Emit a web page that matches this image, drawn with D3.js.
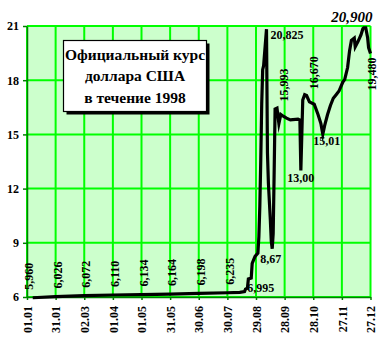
<!DOCTYPE html>
<html><head><meta charset="utf-8">
<script src="https://cdn.jsdelivr.net/npm/d3@7"></script>
<style>
body{margin:0;background:#fff}
svg{display:block}
text{font-family:"Liberation Serif","Times New Roman",serif;font-weight:bold}
</style>
</head><body>
<svg id="c" width="384" height="339"></svg>
<script>
// ---- data ----
const dates = ["1998-01-07","1998-01-31","1998-03-02","1998-04-01","1998-05-01","1998-05-31","1998-06-30","1998-07-30",
  "1998-08-12","1998-08-17","1998-08-18","1998-08-20","1998-08-21","1998-08-24","1998-08-25","1998-08-28","1998-08-31",
  "1998-09-01","1998-09-02","1998-09-03","1998-09-04","1998-09-05","1998-09-06","1998-09-09","1998-09-10","1998-09-11",
  "1998-09-13","1998-09-14","1998-09-15","1998-09-16","1998-09-17","1998-09-18","1998-09-20","1998-09-22","1998-09-24",
  "1998-09-27","1998-09-30","1998-10-04","1998-10-12","1998-10-14","1998-10-15","1998-10-17","1998-10-19","1998-10-21",
  "1998-10-24","1998-10-29","1998-11-02","1998-11-05","1998-11-07","1998-11-09","1998-11-12","1998-11-15","1998-11-18",
  "1998-11-21","1998-11-24","1998-11-28","1998-11-30","1998-12-03","1998-12-05","1998-12-07","1998-12-10","1998-12-11",
  "1998-12-14","1998-12-17","1998-12-19","1998-12-20","1998-12-22","1998-12-24","1998-12-25","1998-12-27"];
const rates = [5.960,6.026,6.072,6.110,6.134,6.164,6.198,6.235,
  6.260,6.300,6.430,6.490,6.995,7.050,7.860,8.250,8.430,
  9.330,11.00,13.60,16.70,18.58,18.80,20.825,14.00,12.30,
  10.30,9.10,8.670,9.50,12.80,16.40,16.45,15.60,16.10,
  15.993,15.90,15.80,15.85,15.80,13.00,16.90,17.20,17.15,
  16.80,16.670,16.10,15.60,15.01,15.50,16.10,16.60,17.00,
  17.20,17.40,17.90,18.05,18.70,19.60,20.20,20.33,19.85,
  20.15,20.50,20.85,20.900,20.90,20.35,19.80,19.480];
const tickDates = ["1998-01-01","1998-01-31","1998-03-02","1998-04-01","1998-05-01","1998-05-31","1998-06-30",
  "1998-07-30","1998-08-29","1998-09-28","1998-10-28","1998-11-27","1998-12-27"];
const tickLabels = ["01.01","31.01","02.03","01.04","01.05","31.05","30.06","30.07","29.08","28.09","28.10","27.11","27.12"];
const yTicks = [6,9,12,15,18,21];
// rotated value labels at the first eight ticks
const earlyLabelDates = ["1998-01-01","1998-01-31","1998-03-02","1998-04-01","1998-05-01","1998-05-31","1998-06-30","1998-07-30"];
const earlyLabelValues = [5.960,6.026,6.072,6.110,6.134,6.164,6.198,6.235];
const earlyLabelTexts = ["5,960","6,026","6,072","6,110","6,134","6,164","6,198","6,235"];
const titleLines = ["Официальный курс","доллара США","в течение 1998"];

// ---- setup ----
const parse = d3.timeParse("%Y-%m-%d");
const data = dates.map((d,i)=>({date:parse(d), v:rates[i]}));
const svg = d3.select("#c");
const L=27, R=370.5, T=26, B=297;

const x = d3.scaleTime().domain([parse("1998-01-01"), parse("1998-12-27")]).range([L,R]);
const y = d3.scaleLinear().domain([6,21]).range([B,T]);

// plot background
svg.append("rect").attr("x",L).attr("y",T).attr("width",R-L).attr("height",B-T).attr("fill","#ccffcc");

// grid
const g = svg.append("g").attr("stroke","#00ff00").attr("stroke-width",2);
tickDates.forEach(d=>{ g.append("line").attr("x1",x(parse(d))).attr("x2",x(parse(d))).attr("y1",T).attr("y2",B); });
yTicks.forEach(v=>{ g.append("line").attr("x1",L).attr("x2",R).attr("y1",y(v)).attr("y2",y(v)); });

// axes
const ax = svg.append("g").attr("transform",`translate(0,${B})`)
  .call(d3.axisBottom(x).tickValues(tickDates.map(parse)).tickFormat((d,i)=>tickLabels[i]).tickSize(3).tickSizeOuter(0));
ax.selectAll("text").attr("transform","rotate(-90)").attr("x",-9).attr("y",0).attr("dy","0.35em")
  .attr("text-anchor","end").style("font-size","12px").attr("fill","#000");
const ay = svg.append("g").attr("transform",`translate(${L},0)`)
  .call(d3.axisLeft(y).tickValues(yTicks).tickFormat(d3.format("d")).tickSize(4).tickPadding(4).tickSizeOuter(0));
ay.selectAll("text").style("font-size","12px").attr("fill","#000");
[ax,ay].forEach(a=>{ a.select(".domain").attr("stroke","#008000").attr("stroke-width",1.5);
  a.selectAll(".tick line").attr("stroke","#008000").attr("stroke-width",1.5); a.attr("font-family",null); });

// line
const line = d3.line().x(d=>x(d.date)).y(d=>y(d.v));
svg.append("path").datum(data).attr("d",line).attr("fill","none").attr("stroke","#000")
  .attr("stroke-width",3.2).attr("stroke-linejoin","miter").attr("stroke-miterlimit",8);

// labels
const lab = svg.append("g").style("font-size","12px").attr("fill","#000");
earlyLabelDates.forEach((d,i)=>{
  const px=x(parse(d))+2, py=y(earlyLabelValues[i])-8;
  lab.append("text").attr("transform",`translate(${px},${py}) rotate(-90)`).attr("dy","0.35em").text(earlyLabelTexts[i]);
});
function pt(ds){ return data.find(d=>+d.date===+parse(ds)); }
function hlabel(ds, txt, dx, dy, anchor){ const p=pt(ds);
  lab.append("text").attr("x",x(p.date)+dx).attr("y",y(p.v)+dy).attr("text-anchor",anchor||"start").text(txt); }
function vlabel(ds, txt, dx, dy, anchor){ const p=pt(ds);
  lab.append("text").attr("transform",`translate(${x(p.date)+dx},${y(p.v)+dy}) rotate(-90)`).attr("dy","0.35em")
    .attr("text-anchor",anchor||"start").text(txt); }
hlabel("1998-08-21","6,995",-1,13);
hlabel("1998-09-15","8,67",-12,14);
hlabel("1998-09-09","20,825",4,10);
hlabel("1998-10-15","13,00",0,11,"middle");
hlabel("1998-11-07","15,01",4,10.5,"middle");
vlabel("1998-09-27","15,993",0,-15);
vlabel("1998-10-29","16,670",0,-15);
vlabel("1998-12-27","19,480",1,4,"end");
const pk = pt("1998-12-19");
svg.append("text").attr("x",x(parse("1998-12-27"))+2).attr("y",y(pk.v)-6.5).attr("text-anchor","end")
  .style("font-size","15px").style("font-style","italic").text("20,900");

// title box
const bx=63.5, by=40.5, bw=143, bh=71;
svg.append("rect").attr("x",bx+3).attr("y",by+3).attr("width",bw).attr("height",bh).attr("fill","#000");
svg.append("rect").attr("x",bx).attr("y",by).attr("width",bw).attr("height",bh).attr("fill","#fff").attr("stroke","#000").attr("stroke-width",1.2);
titleLines.forEach((t,i)=>{
  svg.append("text").attr("x",bx+bw/2).attr("y",59.5+i*21.5).attr("text-anchor","middle").style("font-size","15.5px").text(t);
});
</script>
</body></html>
